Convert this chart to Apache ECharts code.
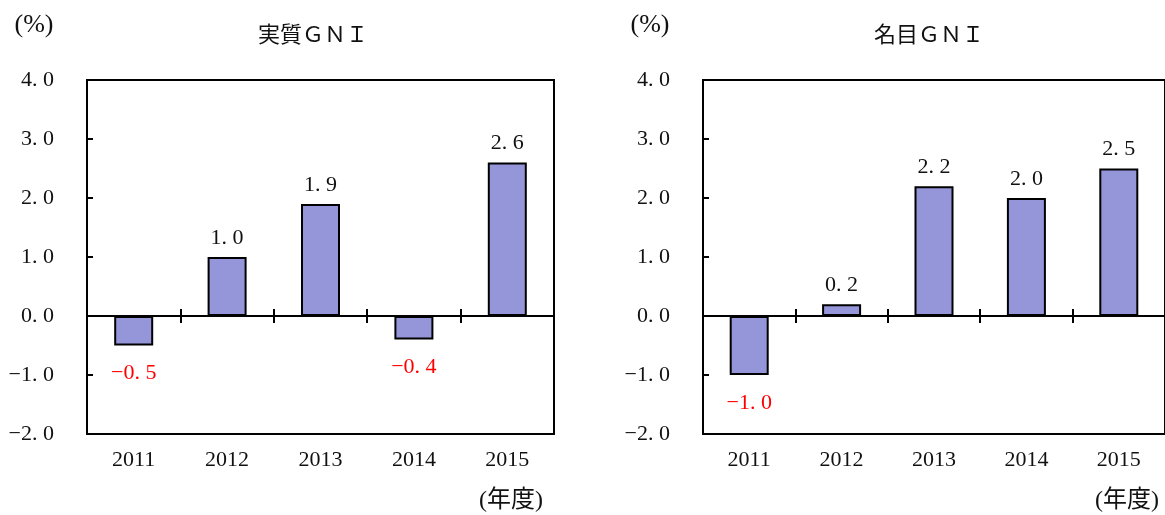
<!DOCTYPE html>
<html>
<head>
<meta charset="utf-8">
<script src="https://cdn.jsdelivr.net/npm/echarts@6/dist/echarts.min.js"></script>
<style>
  html, body { margin: 0; padding: 0; background: #fff; }
  #chart { width: 1165px; height: 515px; }
</style>
</head>
<body>
<div id="chart"></div>
<script>
// Fiscal years on the category axis
const years = ['2011', '2012', '2013', '2014', '2015'];
// Real GNI growth rate (%)
const realGNI = [-0.5, 1.0, 1.9, -0.4, 2.6];
// Nominal GNI growth rate (%)
const nominalGNI = [-1.0, 0.2, 2.2, 2.0, 2.5];
// Value axis range and step
const yMin = -2, yMax = 4, yStep = 1;

const FONT = '"Liberation Serif", "Noto Sans CJK JP", serif';
const BAR_COLOR = '#9595da';

// "1.0" -> "1. 0", negatives with a true minus sign
function fmt(v) {
  const s = Math.abs(v).toFixed(1).replace('.', '. ');
  return (v < 0 ? '\u2212' : '') + s;
}

const panels = [
  { title: '実質ＧＮＩ', data: realGNI, left: 87, width: 467 },
  { title: '名目ＧＮＩ', data: nominalGNI, left: 703, width: 468 }
];
const TOP = 80, HEIGHT = 354;

const grid = [], xAxis = [], yAxis = [], series = [], graphic = [];

panels.forEach((p, i) => {
  const g0 = grid.length;
  const rect = { left: p.left, top: TOP, width: p.width, height: HEIGHT, containLabel: false };
  // framed plot area
  grid.push(Object.assign({ show: true, borderColor: '#000', borderWidth: 2, backgroundColor: 'transparent' }, rect));
  // overlay with the same rect, carries the downward half of the zero-line ticks
  grid.push(Object.assign({ show: false }, rect));

  const xi = xAxis.length;
  // year labels along the bottom edge
  xAxis.push({
    type: 'category', gridIndex: g0, data: years, position: 'bottom',
    axisLine: { show: false, onZero: false },
    axisTick: { show: false },
    axisLabel: { show: true, margin: 15, color: '#111', fontFamily: FONT, fontSize: 22 }
  });
  // zero line with upward ticks between categories
  xAxis.push({
    type: 'category', gridIndex: g0, data: years, position: 'top',
    axisLine: { show: true, onZero: true, lineStyle: { color: '#000', width: 2 } },
    axisTick: { show: true, inside: false, length: 7, lineStyle: { color: '#000', width: 2 } },
    axisLabel: { show: false }
  });
  // zero line with downward ticks between categories
  xAxis.push({
    type: 'category', gridIndex: g0 + 1, data: years, position: 'bottom',
    axisLine: { show: true, onZero: true, lineStyle: { color: '#000', width: 2 } },
    axisTick: { show: true, inside: false, length: 7, lineStyle: { color: '#000', width: 2 } },
    axisLabel: { show: false }
  });

  const yi = yAxis.length;
  yAxis.push({
    type: 'value', gridIndex: g0, min: yMin, max: yMax, interval: yStep,
    axisLine: { show: false },
    axisTick: { show: true, inside: true, length: 6, lineStyle: { color: '#000', width: 2 } },
    splitLine: { show: false },
    axisLabel: { margin: 33, color: '#111', fontFamily: FONT, fontSize: 22, formatter: v => fmt(v) }
  });
  yAxis.push({
    type: 'value', gridIndex: g0 + 1, min: yMin, max: yMax, interval: yStep,
    axisLine: { show: false }, axisTick: { show: false },
    splitLine: { show: false }, axisLabel: { show: false }
  });

  series.push({
    type: 'bar', xAxisIndex: xi, yAxisIndex: yi, barWidth: 39, z: 1,
    itemStyle: { color: BAR_COLOR, borderColor: '#000', borderWidth: 2 },
    data: p.data.map(v => ({
      value: v,
      label: v < 0
        ? { show: true, position: 'bottom', distance: 17, color: '#ff0000' }
        : { show: true, position: 'top', distance: 8, color: '#111' }
    })),
    label: { fontFamily: FONT, fontSize: 22, formatter: d => fmt(d.value) }
  });

  // unit, title and fiscal-year captions
  graphic.push({
    type: 'text', x: p.left - 53, y: 25,
    style: { text: '(%)', font: '26px ' + FONT, fill: '#111', textAlign: 'center', textVerticalAlign: 'middle' }
  });
  graphic.push({
    type: 'text', x: p.left + 226, y: 36,
    style: { text: p.title, font: '22px ' + FONT, fill: '#111', textAlign: 'center', textVerticalAlign: 'middle' }
  });
  graphic.push({
    type: 'text', x: p.left + 424, y: 501,
    style: { text: '(年度)', font: '24px ' + FONT, fill: '#111', textAlign: 'center', textVerticalAlign: 'middle' }
  });
});

const chart = echarts.init(document.getElementById('chart'), null, { renderer: 'canvas' });
chart.setOption({
  animation: false,
  backgroundColor: '#fff',
  grid, xAxis, yAxis, series, graphic
});
</script>
</body>
</html>
